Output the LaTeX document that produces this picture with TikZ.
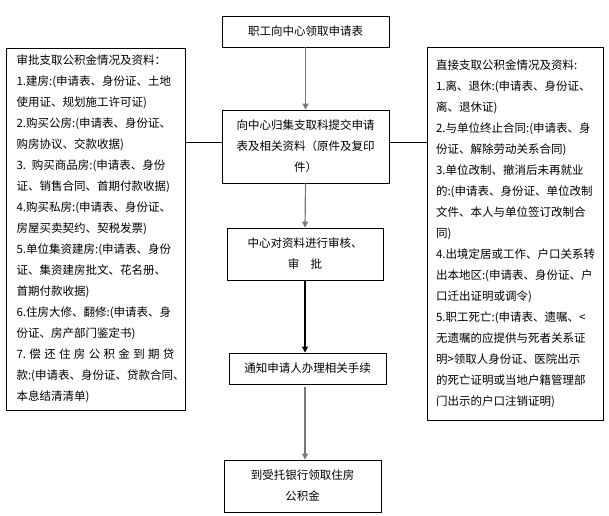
\documentclass[tikz,border=0pt]{standalone}
\usepackage{fontspec}
\setmainfont{Noto Sans CJK SC}
\usepackage{tikz}
\usepackage{xcolor}
\usetikzlibrary{arrows.meta, positioning, calc}
\definecolor{cLine}{RGB}{120,120,120}
\tikzset{
	process/.style  ={rectangle, draw=black, line width=0.9pt, align=center, inner sep=2pt, fill=white},
	sidebox/.style  ={rectangle, draw=black, line width=0.9pt, align=left, inner ysep=2pt, fill=white},
	flowarrow/.style={-{Triangle[length=6pt, width=6pt]}, line width=1.2pt},
	link/.style     ={line width=0.9pt, black},
}
\begin{document}
\begin{tikzpicture}[x=1pt, y=-1pt, font=\fontsize{11.5}{21}\selectfont]
	\useasboundingbox (0,0) rectangle (609,515);
	% main column
	\node[process, minimum width=167pt, minimum height=31pt] (apply) at (305.5,31.5) {职工向中心领取申请表};
	\node[process, minimum width=167pt, minimum height=73pt] (submit) at (305.5,146.5) {向中心归集支取科提交申请\\表及相关资料（原件及复印\\件）};
	\node[process, minimum width=156pt, minimum height=52pt] (review) at (305,254) {中心对资料进行审核、\\审\quad 批};
	\node[process, minimum width=157pt, minimum height=31pt] (notify) at (307.5,368.5) {通知申请人办理相关手续};
	\node[process, minimum width=157pt, minimum height=52pt] (collect) at (302.5,486) {到受托银行领取住房\\公积金};
	% side boxes
	\node[sidebox, text width=158pt, inner xsep=10.5pt, minimum height=362pt] (approve) at (95.5,229) {%
		审批支取公积金情况及资料：\\
		1.建房:(申请表、身份证、土地\\
		使用证、规划施工许可证)\\
		2.购买公房:(申请表、身份证、\\
		购房协议、交款收据)\\
		3. 购买商品房:(申请表、身份\\
		证、销售合同、首期付款收据)\\
		4.购买私房:(申请表、身份证、\\
		房屋买卖契约、契税发票)\\
		5.单位集资建房:(申请表、身份\\
		证、集资建房批文、花名册、\\
		首期付款收据)\\
		6.住房大修、翻修:(申请表、身\\
		份证、房产部门鉴定书)\\
		\makebox[158pt][s]{7.\hfil 偿\hfil 还\hfil 住\hfil 房\hfil 公\hfil 积\hfil 金\hfil 到\hfil 期\hfil 贷}\\
		款:(申请表、身份证、贷款合同、\\
		本息结清清单)};
	\node[sidebox, text width=158pt, inner xsep=9pt, minimum height=373pt] (direct) at (515,233.5) {%
		直接支取公积金情况及资料:\\
		1.离、退休:(申请表、身份证、\\
		离、退休证)\\
		2.与单位终止合同:(申请表、身\\
		份证、解除劳动关系合同)\\
		3.单位改制、撤消后未再就业\\
		的:(申请表、身份证、单位改制\\
		文件、本人与单位签订改制合\\
		同)\\
		4.出境定居或工作、户口关系转\\
		出本地区:(申请表、身份证、户\\
		口迁出证明或调令)\\
		5.职工死亡:(申请表、遗嘱、<\\
		无遗嘱的应提供与死者关系证\\
		明>领取人身份证、医院出示\\
		的死亡证明或当地户籍管理部\\
		门出示的户口注销证明)};
	% connectors
	\draw[flowarrow, cLine] (apply.south) -- (submit.north);
	\draw[flowarrow, cLine] (submit.south) -- (review.north);
	\draw[flowarrow] (review.south) -- (review.south |- notify.north);
	\draw[flowarrow, cLine] ([yshift=-3pt]notify.south -| review.south) -- (review.south |- collect.north);
	\draw[link] ([yshift=4pt]submit.west) -- ([yshift=4pt]approve.east |- submit.west);
	\draw[link] ([yshift=4pt]submit.east) -- ([yshift=4pt]direct.west |- submit.east);
\end{tikzpicture}
\end{document}
